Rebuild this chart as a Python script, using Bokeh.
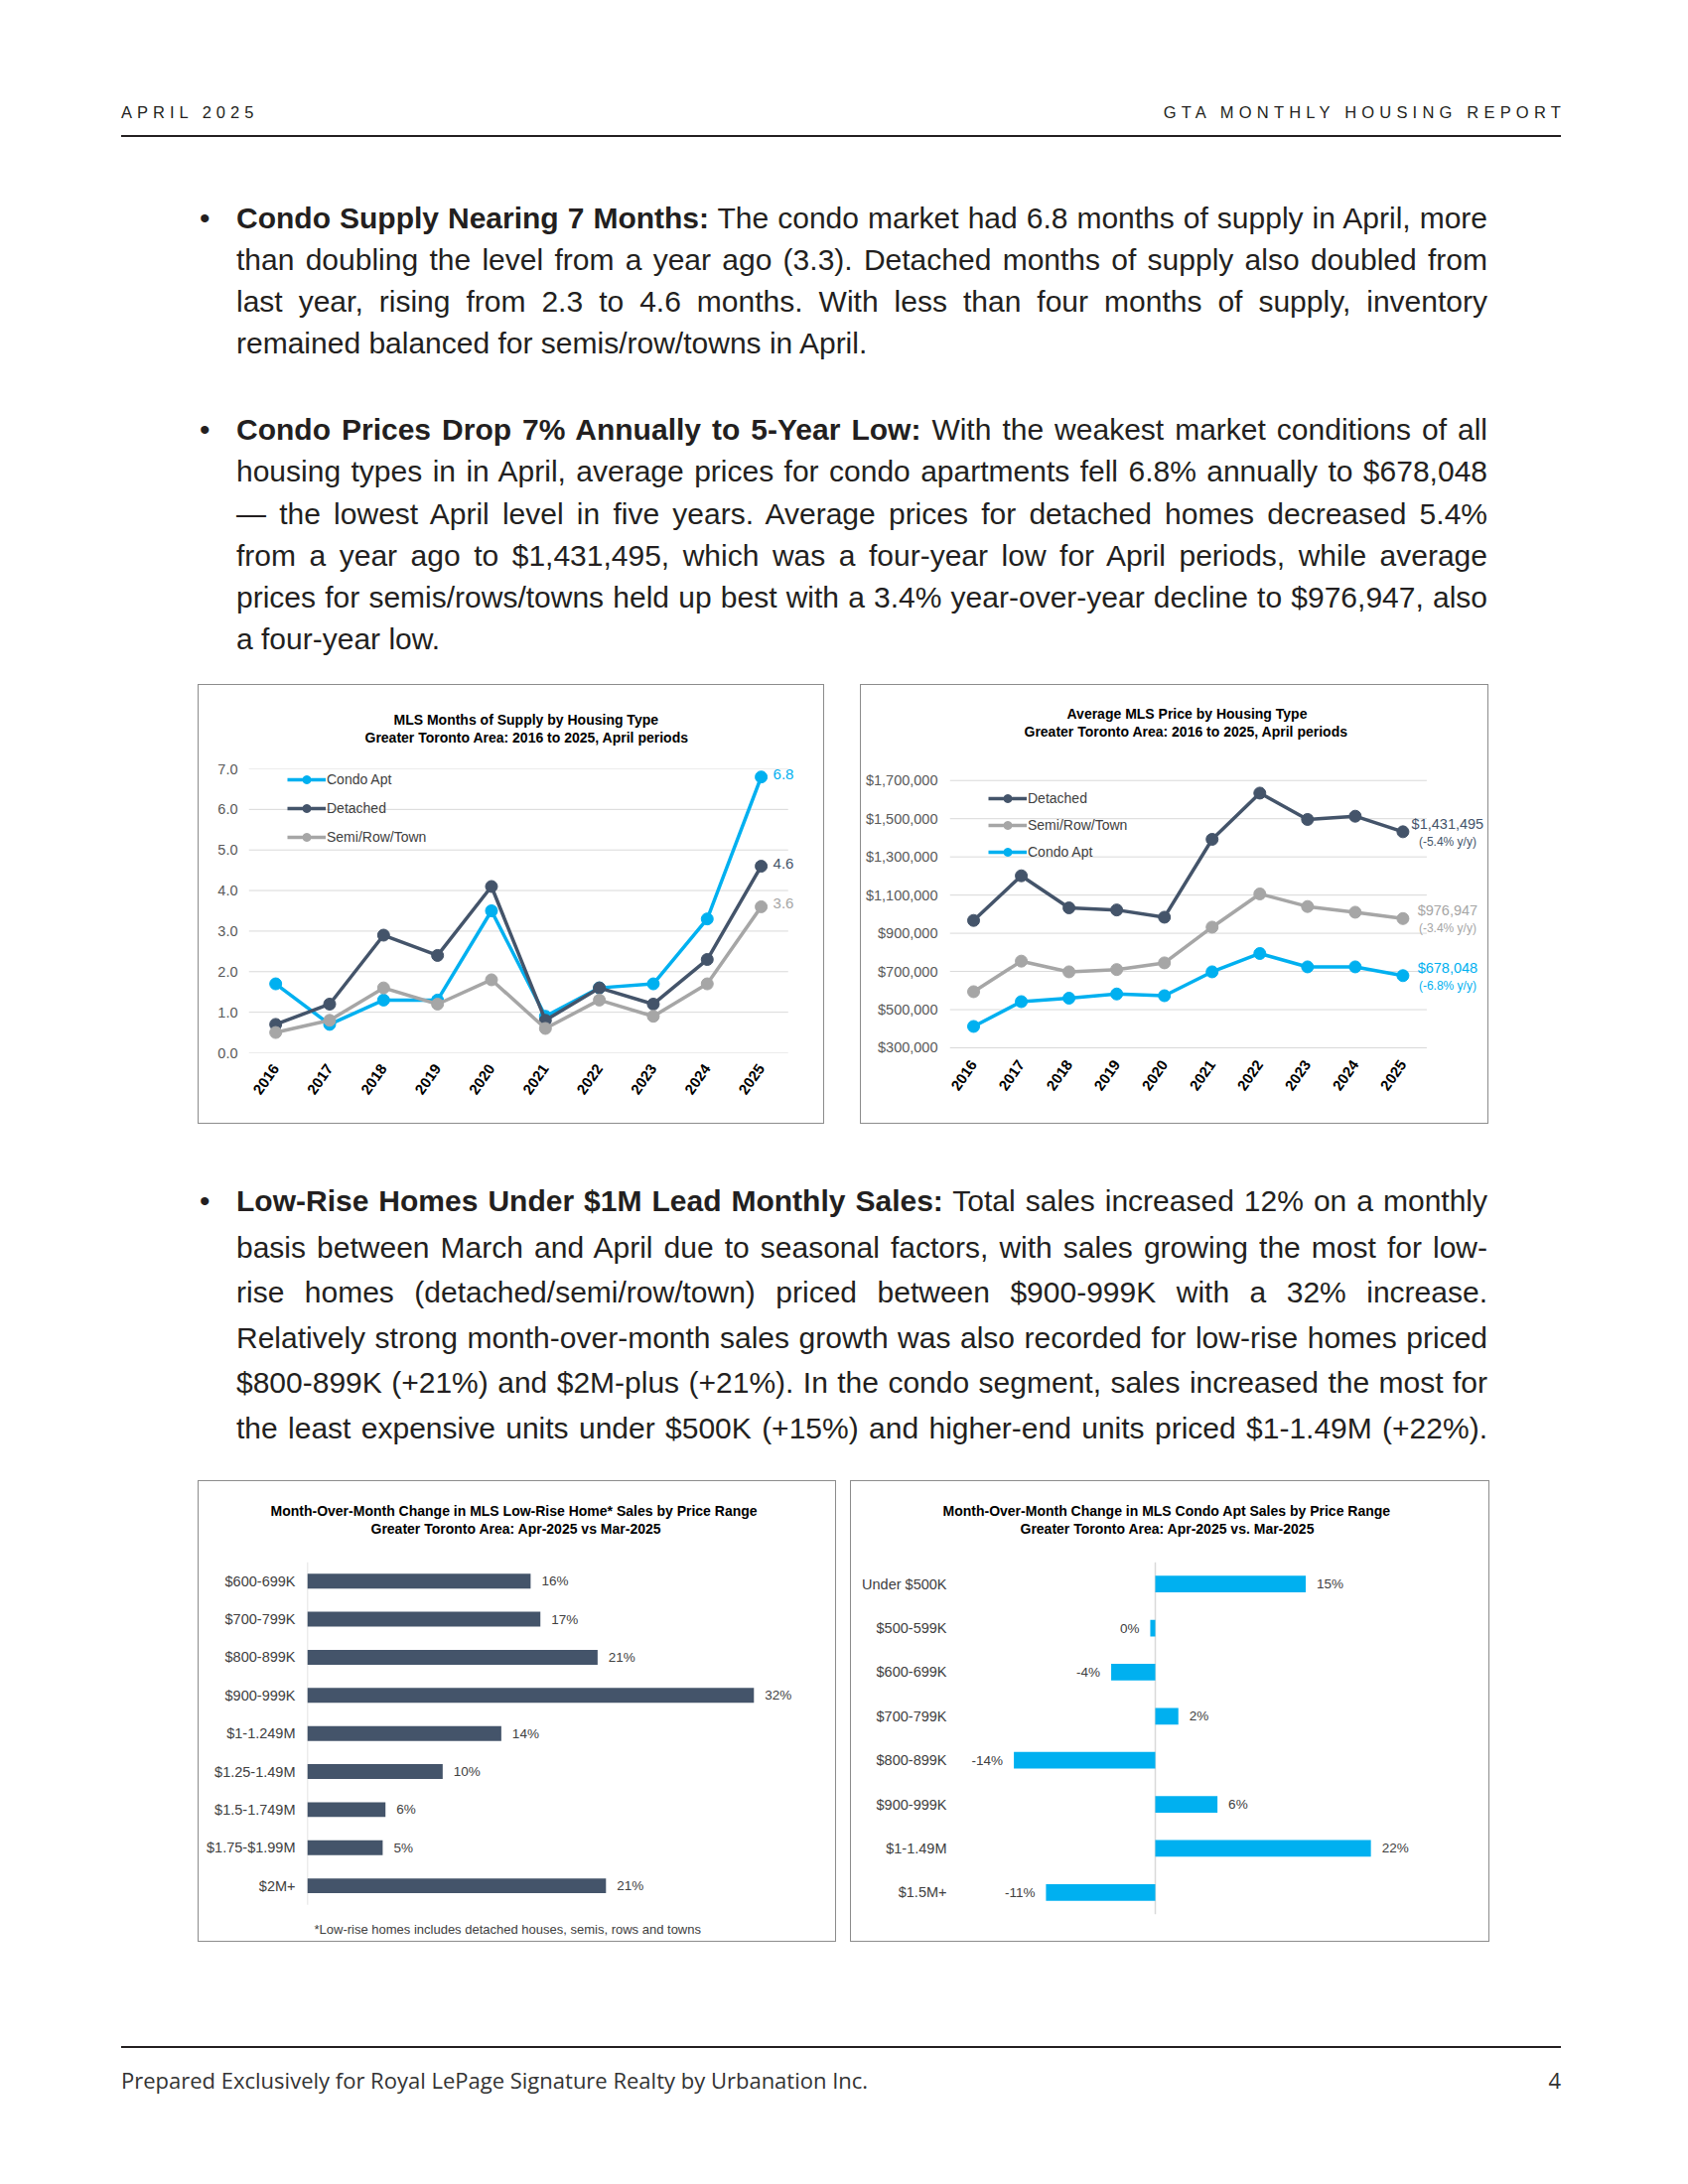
import math
from bokeh.plotting import figure
from bokeh.models import (ColumnDataSource, Range1d, FixedTicker, NumeralTickFormatter,
                          Legend, LegendItem, LabelSet, Div, Spacer, Title)
from bokeh.layouts import column, row
from bokeh.embed import file_html
from bokeh.resources import INLINE
from bokeh.core.properties import value

# ---------------- data ----------------
years = ["2016", "2017", "2018", "2019", "2020", "2021", "2022", "2023", "2024", "2025"]
supply_condo = [1.7, 0.7, 1.3, 1.3, 3.5, 0.9, 1.6, 1.7, 3.3, 6.8]
supply_detached = [0.7, 1.2, 2.9, 2.4, 4.1, 0.8, 1.6, 1.2, 2.3, 4.6]
supply_semi = [0.5, 0.8, 1.6, 1.2, 1.8, 0.6, 1.3, 0.9, 1.7, 3.6]
supply_ticks = [0, 1, 2, 3, 4, 5, 6, 7]

price_detached = [967000, 1201000, 1033000, 1022000, 984000, 1392000, 1634000, 1496000, 1513000, 1431495]
price_semi = [594000, 754000, 698000, 710000, 745000, 932000, 1106000, 1040000, 1010000, 976947]
price_condo = [412000, 542000, 560000, 582000, 573000, 698000, 794000, 724000, 724000, 678048]
price_yoy = [-5.4, -3.4, -6.8]          # detached, semi, condo (2025 vs 2024)
price_ticks = [300000, 500000, 700000, 900000, 1100000, 1300000, 1500000, 1700000]

lowrise_ranges = ["$600-699K", "$700-799K", "$800-899K", "$900-999K", "$1-1.249M",
                  "$1.25-1.49M", "$1.5-1.749M", "$1.75-$1.99M", "$2M+"]
lowrise_change = [16.0, 16.7, 20.8, 32.0, 13.9, 9.7, 5.6, 5.4, 21.4]

condo_ranges = ["Under $500K", "$500-599K", "$600-699K", "$700-799K", "$800-899K",
                "$900-999K", "$1-1.49M", "$1.5M+"]
condo_change = [15.0, -0.5, -4.4, 2.3, -14.1, 6.2, 21.5, -10.9]

# ---------------- styles ----------------
CF = "Liberation Sans"
C_CONDO = "#00B0F0"
C_DET = "#44546A"
C_SEMI = "#A6A6A6"
GRID = "#D9D9D9"
TICK = "#595959"


def frame_style(p, line1, line2, off1, off2, gap):
    p.outline_line_color = None
    p.background_fill_color = "white"
    p.border_fill_color = "white"
    p.styles = {"outline": "1px solid #8c8c8c", "outline-offset": "0px"}
    # stacked above the frame (closest first): spacer title, line 2, figure title (line 1)
    p.add_layout(Title(text=" ", standoff=gap, text_font_size="1px"), "above")
    p.add_layout(Title(text=line2, align="left", offset=off2, standoff=0, text_font=CF,
                       text_font_size="14px", text_font_style="bold", text_color="black"), "above")
    p.title.text = line1
    p.title.align = "left"
    p.title.offset = off1
    p.title.standoff = 0
    p.title.text_font = CF
    p.title.text_font_size = "14px"
    p.title.text_font_style = "bold"
    p.title.text_color = "black"


def line_chart_axes(p, ticks, fmt, idx, ystand, xstand):
    p.yaxis.ticker = FixedTicker(ticks=ticks)
    p.yaxis.formatter = NumeralTickFormatter(format=fmt)
    p.xaxis.ticker = FixedTicker(ticks=idx)
    p.xaxis.major_label_overrides = {i: y for i, y in zip(idx, years)}
    for ax in (p.yaxis, p.xaxis):
        ax.axis_line_color = None
        ax.major_tick_line_color = None
        ax.minor_tick_line_color = None
        ax.major_tick_out = 0
        ax.major_tick_in = 0
        ax.major_label_text_font = CF
    p.yaxis.major_label_text_font_size = "14.5px"
    p.yaxis.major_label_text_color = TICK
    p.yaxis.major_label_standoff = ystand
    p.xaxis.major_label_text_font_size = "15px"
    p.xaxis.major_label_orientation = 0.96
    p.xaxis.major_label_text_font_style = "bold"
    p.xaxis.major_label_text_color = "black"
    p.xaxis.major_label_standoff = xstand
    p.xgrid.grid_line_color = None
    p.ygrid.grid_line_color = None
    gsrc = ColumnDataSource(dict(y=ticks, x0=[-0.5] * len(ticks), x1=[len(idx) - 0.5] * len(ticks)))
    p.segment(x0="x0", x1="x1", y0="y", y1="y", source=gsrc, line_color=GRID, line_width=1)


idx = list(range(len(years)))

# ---------------- chart 1: months of supply ----------------
p1 = figure(x_range=Range1d(-0.5, 9.9), y_range=Range1d(0, 7), width=629, height=441,
            min_border_left=50, min_border_right=14, min_border_top=84, min_border_bottom=71,
            output_backend="svg", toolbar_location=None)
frame_style(p1, "MLS Months of Supply by Housing Type",
            "Greater Toronto Area: 2016 to 2025, April periods", 146, 117, 21)
line_chart_axes(p1, supply_ticks, "0.0", idx, 11, 13)

src1 = ColumnDataSource(dict(x=idx, condo=supply_condo, det=supply_detached, semi=supply_semi))
items1 = []
for key, col, name in [("condo", C_CONDO, "Condo Apt"), ("det", C_DET, "Detached"),
                       ("semi", C_SEMI, "Semi/Row/Town")]:
    ln = p1.line("x", key, source=src1, line_color=col, line_width=3.5, line_join="round")
    sc = p1.scatter("x", key, source=src1, size=12, fill_color=col, line_color=col)
    items1.append(LegendItem(label=name, renderers=[ln, sc]))

p1.add_layout(Legend(items=items1, location=(39, 207), glyph_width=39, glyph_height=20,
                     label_height=20, spacing=9, padding=0, margin=0, border_line_color=None,
                     background_fill_alpha=0, label_text_font=CF, label_text_font_size="14px",
                     label_text_color="#404040", label_standoff=1))

end1 = ColumnDataSource(dict(
    x=[idx[-1]] * 3,
    y=[supply_condo[-1], supply_detached[-1], supply_semi[-1]],
    t=[f"{v:.1f}" for v in (supply_condo[-1], supply_detached[-1], supply_semi[-1])],
    c=[C_CONDO, C_DET, C_SEMI]))
p1.add_layout(LabelSet(x="x", y="y", text="t", source=end1, x_offset=12, y_offset=3,
                       text_color="c", text_baseline="middle", text_font=value(CF),
                       text_font_size="15px"))

# ---------------- chart 2: average price ----------------
p2 = figure(x_range=Range1d(-0.5, 10.74), y_range=Range1d(274000, 1761000), width=631, height=441,
            min_border_left=89, min_border_right=2, min_border_top=84, min_border_bottom=71,
            output_backend="svg", toolbar_location=None)
frame_style(p2, "Average MLS Price by Housing Type",
            "Greater Toronto Area: 2016 to 2025, April periods", 118, 75, 27)
line_chart_axes(p2, price_ticks, "$0,0", idx, 12, 9)

src2 = ColumnDataSource(dict(x=idx, det=price_detached, semi=price_semi, condo=price_condo))
items2 = []
for key, col, name in [("det", C_DET, "Detached"), ("semi", C_SEMI, "Semi/Row/Town"),
                       ("condo", C_CONDO, "Condo Apt")]:
    ln = p2.line("x", key, source=src2, line_color=col, line_width=3.5, line_join="round")
    sc = p2.scatter("x", key, source=src2, size=12, fill_color=col, line_color=col)
    items2.append(LegendItem(label=name, renderers=[ln, sc]))

p2.add_layout(Legend(items=items2, location=(39, 192), glyph_width=39, glyph_height=20,
                     label_height=20, spacing=7, padding=0, margin=0, border_line_color=None,
                     background_fill_alpha=0, label_text_font=CF, label_text_font_size="14px",
                     label_text_color="#404040", label_standoff=1))

last2 = [price_detached[-1], price_semi[-1], price_condo[-1]]
end2 = ColumnDataSource(dict(
    x=[idx[-1]] * 3, y=last2,
    t=[f"${v:,.0f}" for v in last2],
    s=[f"({v:.1f}% y/y)" for v in price_yoy],
    c=[C_DET, C_SEMI, C_CONDO]))
p2.add_layout(LabelSet(x="x", y="y", text="t", source=end2, x_offset=45, y_offset=8,
                       text_color="c", text_align="center", text_baseline="middle",
                       text_font=value(CF), text_font_size="14.5px"))
p2.add_layout(LabelSet(x="x", y="y", text="s", source=end2, x_offset=45, y_offset=-10,
                       text_color="c", text_align="center", text_baseline="middle",
                       text_font=value(CF), text_font_size="12px"))


# ---------------- bar chart helpers ----------------
def bar_axes(p, cats, pos, stand):
    p.yaxis.ticker = FixedTicker(ticks=pos)
    p.yaxis.major_label_overrides = {k: c for k, c in zip(pos, cats)}
    p.xaxis.visible = False
    p.xgrid.grid_line_color = None
    p.ygrid.grid_line_color = None
    p.yaxis.axis_line_color = None
    p.yaxis.major_tick_line_color = None
    p.yaxis.minor_tick_line_color = None
    p.yaxis.major_tick_out = 0
    p.yaxis.major_tick_in = 0
    p.yaxis.major_label_text_font = CF
    p.yaxis.major_label_text_font_size = "14.5px"
    p.yaxis.major_label_text_color = "#404040"
    p.yaxis.major_label_standoff = stand
    # category axis line at zero, spanning the category bands
    p.segment(x0=[0], x1=[0], y0=[-0.5], y1=[len(cats) - 0.5], line_color=GRID, line_width=1.5)


# ---------------- chart 3: low-rise month-over-month ----------------
pos3 = [len(lowrise_ranges) - 1 - i for i in range(len(lowrise_ranges))]
p3 = figure(y_range=Range1d(-0.753, len(lowrise_ranges) - 0.5), x_range=Range1d(0, 36),
            width=641, height=463, min_border_left=109, min_border_right=26,
            min_border_top=81, min_border_bottom=27,
            output_backend="svg", toolbar_location=None)
frame_style(p3, "Month-Over-Month Change in MLS Low-Rise Home* Sales by Price Range",
            "Greater Toronto Area: Apr-2025 vs Mar-2025", -37, 64, 23)
bar_axes(p3, lowrise_ranges, pos3, 12)
src3 = ColumnDataSource(dict(y=pos3, v=lowrise_change,
                             lab=[f"{int(round(v))}%" for v in lowrise_change]))
p3.hbar(y="y", right="v", left=0, height=0.39, source=src3, fill_color=C_DET, line_color=None)
p3.text(x="v", y="y", text="lab", source=src3, x_offset=11, text_baseline="middle",
        text_font=value(CF), text_font_size="13.5px", text_color="#404040")
p3.add_layout(Title(text="*Low-rise homes includes detached houses, semis, rows and towns",
                    align="left", offset=7, standoff=10, text_font=CF,
                    text_font_size="13px", text_font_style="normal", text_color="#404040"),
              "below")

# ---------------- chart 4: condo month-over-month ----------------
pos4 = [len(condo_ranges) - 1 - i for i in range(len(condo_ranges))]
p4 = figure(y_range=Range1d(-0.5, len(condo_ranges) - 0.5), x_range=Range1d(-20, 30),
            width=642, height=463, min_border_left=104, min_border_right=33,
            min_border_top=81, min_border_bottom=27,
            output_backend="svg", toolbar_location=None)
frame_style(p4, "Month-Over-Month Change in MLS Condo Apt Sales by Price Range",
            "Greater Toronto Area: Apr-2025 vs. Mar-2025", -12, 66, 23)
bar_axes(p4, condo_ranges, pos4, 8)
src4 = ColumnDataSource(dict(y=pos4, v=condo_change,
                             lab=[f"{int(round(v))}%" for v in condo_change],
                             al=["left" if v > 0 else "right" for v in condo_change],
                             dx=[11 if v > 0 else -11 for v in condo_change]))
p4.hbar(y="y", right="v", left=0, height=0.375, source=src4, fill_color=C_CONDO, line_color=None)
p4.text(x="v", y="y", text="lab", source=src4, x_offset="dx", text_align="al",
        text_baseline="middle", text_font=value(CF), text_font_size="13.5px", text_color="#404040")

# ---------------- page text ----------------
BODY = "font-family:'Liberation Sans',Arial,sans-serif;color:#231f20;"
TXT_LEFT = 238
TXT_W = 1260
ADJ = 0


def line_div(html, cy, origin_y, justify, lh=40, size=30):
    top = cy + ADJ - origin_y - lh / 2
    al = "text-align:justify;text-align-last:justify;" if justify else "text-align:left;"
    return (f'<div style="position:absolute;left:{TXT_LEFT}px;top:{top}px;width:{TXT_W}px;'
            f'height:{lh}px;line-height:{lh}px;font-size:{size}px;{al}">{html}</div>')


def bullet_div(cy, origin_y, lh=40):
    top = cy + ADJ - origin_y - lh / 2
    return (f'<div style="position:absolute;left:201px;top:{top}px;height:{lh}px;'
            f'line-height:{lh}px;font-size:30px;">&#8226;</div>')


para1 = [
    ("<b>Condo Supply Nearing 7 Months:</b> The condo market had 6.8 months of supply in April, more", True),
    ("than doubling the level from a year ago (3.3). Detached months of supply also doubled from", True),
    ("last year, rising from 2.3 to 4.6 months. With less than four months of supply, inventory", True),
    ("remained balanced for semis/row/towns in April.", False),
]
para1_y = [220, 262, 304, 346]
para2 = [
    ("<b>Condo Prices Drop 7% Annually to 5-Year Low:</b> With the weakest market conditions of all", True),
    ("housing types in in April, average prices for condo apartments fell 6.8% annually to $678,048", True),
    ("&mdash; the lowest April level in five years. Average prices for detached homes decreased 5.4%", True),
    ("from a year ago to $1,431,495, which was a four-year low for April periods, while average", True),
    ("prices for semis/rows/towns held up best with a 3.4% year-over-year decline to $976,947, also", True),
    ("a four-year low.", False),
]
para2_y = [433, 475, 518, 560, 602, 644]
para3 = [
    ("<b>Low-Rise Homes Under $1M Lead Monthly Sales:</b> Total sales increased 12% on a monthly", True),
    ("basis between March and April due to seasonal factors, with sales growing the most for low-", True),
    ("rise homes (detached/semi/row/town) priced between $900-999K with a 32% increase.", True),
    ("Relatively strong month-over-month sales growth was also recorded for low-rise homes priced", True),
    ("$800-899K (+21%) and $2M-plus (+21%). In the condo segment, sales increased the most for", True),
    ("the least expensive units under $500K (+15%) and higher-end units priced $1-1.49M (+22%).", True),
]
para3_y = [1210, 1257, 1302, 1348, 1393, 1439]

# top block: page y 0 .. 690
O1 = 0
parts = []
parts.append(f'<div style="position:absolute;left:122px;top:{113 - O1 - 11}px;line-height:22px;'
             f'font-size:16.5px;letter-spacing:5px;white-space:nowrap;">APRIL 2025</div>')
parts.append(f'<div style="position:absolute;right:{1700 - 1572 - 5}px;top:{113 - O1 - 11}px;'
             f'line-height:22px;font-size:16.5px;letter-spacing:5.2px;white-space:nowrap;">'
             f'GTA MONTHLY HOUSING REPORT</div>')
parts.append(f'<div style="position:absolute;left:122px;top:{136}px;width:1450px;'
             f'height:1.5px;background:#231f20;"></div>')
parts.append(bullet_div(para1_y[0], O1))
parts += [line_div(h, y, O1, j) for (h, j), y in zip(para1, para1_y)]
parts.append(bullet_div(para2_y[0], O1))
parts += [line_div(h, y, O1, j) for (h, j), y in zip(para2, para2_y)]
top_div = Div(text=f'<div style="position:relative;width:1700px;height:690px;{BODY}">' + "".join(parts) + "</div>",
              width=1700, height=690, margin=0)

# middle block: page y 1131 .. 1492
O2 = 1131
parts = [bullet_div(para3_y[0], O2, lh=44)]
parts += [line_div(h, y, O2, j, lh=44) for (h, j), y in zip(para3, para3_y)]
mid_div = Div(text=f'<div style="position:relative;width:1700px;height:361px;{BODY}">' + "".join(parts) + "</div>",
              width=1700, height=361, margin=0)

# footer block: page y 1955 .. 2195
O3 = 1955
parts = [f'<div style="position:absolute;left:122px;top:{2062 - O3 - 1}px;width:1450px;'
         f'height:1.5px;background:#231f20;"></div>',
         f'<div style="position:absolute;left:122px;top:{2095 - O3 - 15}px;line-height:30px;'
         f'font-family:\'Open Sans\';font-size:22px;color:#333;white-space:nowrap;">'
         f'Prepared Exclusively for Royal LePage Signature Realty by Urbanation Inc.</div>',
         f'<div style="position:absolute;right:{1700 - 1572}px;top:{2095 - O3 - 15}px;line-height:30px;'
         f'font-family:\'Open Sans\';font-size:22px;color:#333;">4</div>']
foot_div = Div(text=f'<div style="position:relative;width:1700px;height:240px;{BODY}">' + "".join(parts) + "</div>",
               width=1700, height=240, margin=0)

row1 = row(Spacer(width=200, height=10), p1, Spacer(width=38, height=10), p2)
row2 = row(Spacer(width=200, height=10), p3, Spacer(width=16, height=10), p4)
page = column(top_div, row1, mid_div, row2, foot_div)

open("out.html", "w").write(file_html(page, INLINE))
